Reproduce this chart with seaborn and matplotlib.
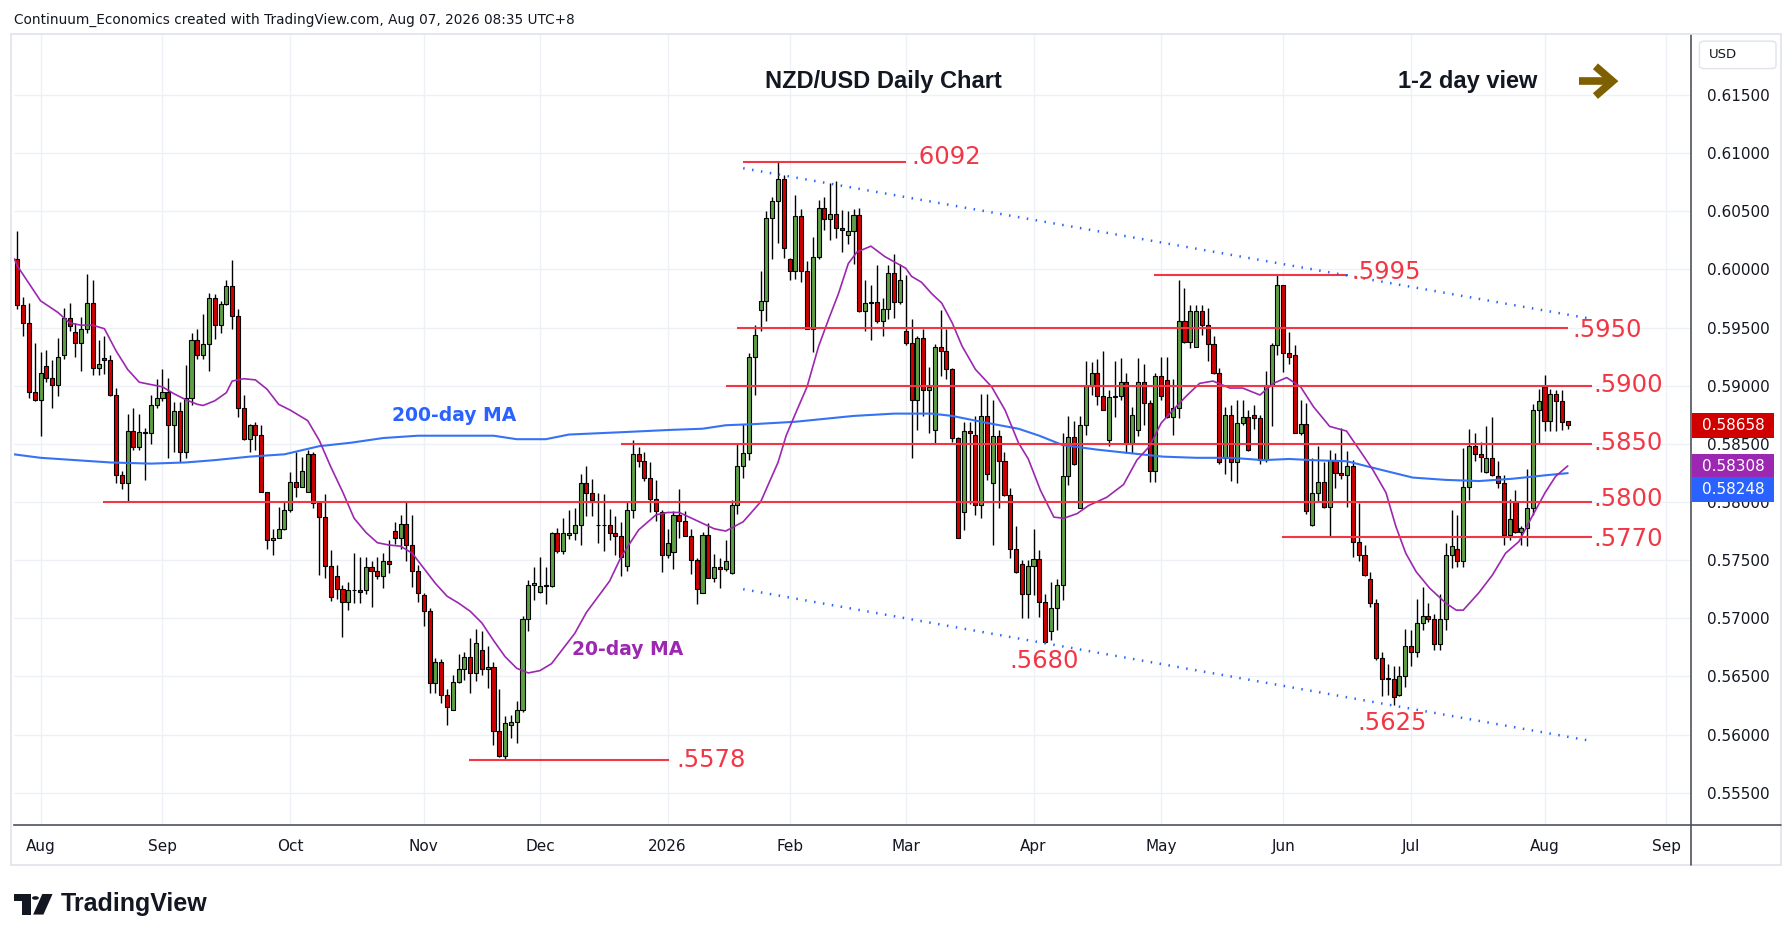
import numpy as np
import pandas as pd
import seaborn as sns
import matplotlib
matplotlib.use("Agg")
import matplotlib.pyplot as plt
from matplotlib.patches import Rectangle, Polygon, Circle, FancyBboxPatch
from matplotlib.lines import Line2D

# NZD/USD daily candles, 28 Jul 2025 -> 7 Aug 2026 (one row per month in each list)
opens = [
    0.6009, 0.5969, 0.5954, 0.5895,
    0.5888, 0.5917, 0.5907, 0.5901, 0.5926, 0.5958, 0.5946, 0.5937, 0.5949, 0.5971, 0.5915, 0.5924, 0.5922, 0.5892, 0.5823, 0.5816, 0.5861, 0.5847, 0.5860, 0.5859, 0.5883,
    0.5889, 0.5895, 0.5866, 0.5878, 0.5843, 0.5889, 0.5939, 0.5926, 0.5936, 0.5975, 0.5952, 0.5970, 0.5986, 0.5960, 0.5881, 0.5854, 0.5866, 0.5858, 0.5809, 0.5767, 0.5769, 0.5777,
    0.5793, 0.5817, 0.5813, 0.5809, 0.5841, 0.5799, 0.5787, 0.5745, 0.5736, 0.5725, 0.5714, 0.5724, 0.5724, 0.5724, 0.5744, 0.5741, 0.5736, 0.5749, 0.5775, 0.5769, 0.5781, 0.5763, 0.5741,
    0.5720, 0.5706, 0.5644, 0.5662, 0.5634, 0.5621, 0.5645, 0.5656, 0.5667, 0.5653, 0.5673, 0.5656, 0.5658, 0.5603, 0.5582, 0.5608, 0.5611, 0.5621, 0.5699, 0.5729,
    0.5723, 0.5728, 0.5728, 0.5773, 0.5758, 0.5772, 0.5773, 0.5780, 0.5816, 0.5808, 0.5780, 0.5780, 0.5780, 0.5773, 0.5771, 0.5745, 0.5793, 0.5841, 0.5835, 0.5821, 0.5803, 0.5791,
    0.5754, 0.5757, 0.5789, 0.5784, 0.5771, 0.5750, 0.5722, 0.5772, 0.5735, 0.5744, 0.5742, 0.5739, 0.5797, 0.5831, 0.5842, 0.5925, 0.5965, 0.5973, 0.6044, 0.6059, 0.6078,
    0.6009, 0.5999, 0.6046, 0.5999, 0.5949, 0.6011, 0.6053, 0.6043, 0.6048, 0.6036, 0.6030, 0.6033, 0.6047, 0.5964, 0.5971, 0.5972, 0.5956, 0.5966, 0.5997, 0.5972,
    0.5947, 0.5937, 0.5888, 0.5941, 0.5896, 0.5862, 0.5933, 0.5930, 0.5914, 0.5855, 0.5791, 0.5861, 0.5858, 0.5797, 0.5874, 0.5816, 0.5857, 0.5835, 0.5806, 0.5760, 0.5747, 0.5721,
    0.5745, 0.5751, 0.5714, 0.5689, 0.5709, 0.5729, 0.5822, 0.5856, 0.5795, 0.5866, 0.5900, 0.5911, 0.5891, 0.5853, 0.5890, 0.5891, 0.5903, 0.5851, 0.5862, 0.5903, 0.5885, 0.5827,
    0.5908, 0.5905, 0.5873, 0.5881, 0.5956, 0.5938, 0.5933, 0.5964, 0.5952, 0.5936, 0.5911, 0.5838, 0.5875, 0.5834, 0.5868, 0.5873, 0.5875, 0.5872, 0.5836, 0.5901, 0.5935,
    0.5987, 0.5928, 0.5926, 0.5859, 0.5867, 0.5780, 0.5808, 0.5817, 0.5796, 0.5836, 0.5825, 0.5823, 0.5831, 0.5766, 0.5754, 0.5734, 0.5713, 0.5666, 0.5648, 0.5648, 0.5634, 0.5650,
    0.5676, 0.5671, 0.5696, 0.5702, 0.5699, 0.5678, 0.5699, 0.5754, 0.5760, 0.5749, 0.5813, 0.5848, 0.5841, 0.5826, 0.5838, 0.5822, 0.5816, 0.5772, 0.5800, 0.5774, 0.5778, 0.5795, 0.5879,
    0.5899, 0.5870, 0.5893, 0.5887, 0.5870,
]
highs = [
    0.6033, 0.5976, 0.5971, 0.5937,
    0.5929, 0.5931, 0.5922, 0.5941, 0.5967, 0.5971, 0.5954, 0.5959, 0.5996, 0.5991, 0.5939, 0.5943, 0.5926, 0.5898, 0.5827, 0.5876, 0.5881, 0.5876, 0.5864, 0.5892, 0.5906,
    0.5914, 0.5907, 0.5886, 0.5886, 0.5918, 0.5945, 0.5949, 0.5962, 0.5980, 0.5979, 0.5973, 0.5991, 0.6008, 0.5966, 0.5892, 0.5867, 0.5869, 0.5866, 0.5809, 0.5777, 0.5796, 0.5800,
    0.5826, 0.5843, 0.5839, 0.5845, 0.5843, 0.5800, 0.5807, 0.5759, 0.5746, 0.5729, 0.5731, 0.5756, 0.5753, 0.5753, 0.5749, 0.5753, 0.5756, 0.5767, 0.5783, 0.5789, 0.5801, 0.5789, 0.5746,
    0.5722, 0.5709, 0.5666, 0.5665, 0.5639, 0.5651, 0.5669, 0.5671, 0.5683, 0.5691, 0.5689, 0.5676, 0.5662, 0.5639, 0.5616, 0.5617, 0.5629, 0.5702, 0.5733, 0.5744,
    0.5753, 0.5744, 0.5774, 0.5778, 0.5786, 0.5793, 0.5795, 0.5824, 0.5831, 0.5820, 0.5808, 0.5807, 0.5794, 0.5788, 0.5783, 0.5800, 0.5853, 0.5847, 0.5843, 0.5834, 0.5819, 0.5793,
    0.5777, 0.5792, 0.5811, 0.5792, 0.5777, 0.5752, 0.5774, 0.5782, 0.5755, 0.5752, 0.5767, 0.5802, 0.5851, 0.5867, 0.5928, 0.5952, 0.5999, 0.6050, 0.6062, 0.6092, 0.6081,
    0.6010, 0.6064, 0.6052, 0.6007, 0.6028, 0.6060, 0.6062, 0.6074, 0.6076, 0.6051, 0.6050, 0.6052, 0.6053, 0.5991, 0.5987, 0.6004, 0.5975, 0.6004, 0.6013, 0.6005,
    0.5995, 0.5957, 0.5943, 0.5949, 0.5916, 0.5936, 0.5965, 0.5949, 0.5915, 0.5856, 0.5869, 0.5869, 0.5874, 0.5893, 0.5893, 0.5888, 0.5862, 0.5843, 0.5812, 0.5779, 0.5750, 0.5750,
    0.5777, 0.5759, 0.5721, 0.5731, 0.5734, 0.5859, 0.5874, 0.5870, 0.5874, 0.5921, 0.5920, 0.5923, 0.5930, 0.5896, 0.5921, 0.5924, 0.5911, 0.5882, 0.5924, 0.5919, 0.5888, 0.5911,
    0.5925, 0.5925, 0.5906, 0.5991, 0.5984, 0.5969, 0.5969, 0.5969, 0.5967, 0.5943, 0.5915, 0.5882, 0.5883, 0.5888, 0.5888, 0.5879, 0.5883, 0.5875, 0.5913, 0.5937, 0.5995,
    0.5987, 0.5946, 0.5935, 0.5888, 0.5885, 0.5838, 0.5848, 0.5834, 0.5845, 0.5842, 0.5864, 0.5844, 0.5836, 0.5799, 0.5763, 0.5740, 0.5717, 0.5671, 0.5661, 0.5659, 0.5659, 0.5691,
    0.5690, 0.5717, 0.5727, 0.5713, 0.5704, 0.5721, 0.5765, 0.5793, 0.5789, 0.5846, 0.5863, 0.5859, 0.5852, 0.5865, 0.5873, 0.5835, 0.5823, 0.5803, 0.5810, 0.5779, 0.5828, 0.5884, 0.5897,
    0.5909, 0.5897, 0.5896, 0.5896, 0.5870,
]
lows = [
    0.5966, 0.5943, 0.5889, 0.5887,
    0.5857, 0.5903, 0.5881, 0.5891, 0.5923, 0.5947, 0.5925, 0.5913, 0.5945, 0.5909, 0.5909, 0.5910, 0.5891, 0.5816, 0.5811, 0.5800, 0.5845, 0.5845, 0.5819, 0.5850, 0.5881,
    0.5887, 0.5838, 0.5843, 0.5834, 0.5838, 0.5883, 0.5923, 0.5923, 0.5913, 0.5940, 0.5945, 0.5969, 0.5949, 0.5873, 0.5853, 0.5843, 0.5845, 0.5809, 0.5760, 0.5754, 0.5769, 0.5776,
    0.5791, 0.5804, 0.5813, 0.5809, 0.5795, 0.5737, 0.5735, 0.5715, 0.5717, 0.5684, 0.5707, 0.5713, 0.5713, 0.5721, 0.5710, 0.5734, 0.5726, 0.5739, 0.5764, 0.5760, 0.5749, 0.5727, 0.5714,
    0.5693, 0.5636, 0.5636, 0.5627, 0.5608, 0.5621, 0.5644, 0.5647, 0.5636, 0.5646, 0.5651, 0.5640, 0.5591, 0.5581, 0.5578, 0.5597, 0.5593, 0.5619, 0.5689, 0.5716,
    0.5722, 0.5712, 0.5727, 0.5756, 0.5755, 0.5768, 0.5767, 0.5763, 0.5788, 0.5788, 0.5765, 0.5758, 0.5767, 0.5754, 0.5736, 0.5741, 0.5786, 0.5830, 0.5818, 0.5791, 0.5784, 0.5740,
    0.5752, 0.5742, 0.5769, 0.5771, 0.5738, 0.5712, 0.5722, 0.5735, 0.5731, 0.5726, 0.5741, 0.5738, 0.5790, 0.5821, 0.5836, 0.5892, 0.5947, 0.5956, 0.6009, 0.6023, 0.6010,
    0.5991, 0.5992, 0.5989, 0.5949, 0.5929, 0.6009, 0.6034, 0.6025, 0.6027, 0.6015, 0.6022, 0.6005, 0.5963, 0.5947, 0.5939, 0.5954, 0.5943, 0.5957, 0.5958, 0.5970,
    0.5935, 0.5838, 0.5862, 0.5874, 0.5859, 0.5850, 0.5908, 0.5906, 0.5852, 0.5769, 0.5776, 0.5798, 0.5789, 0.5786, 0.5819, 0.5763, 0.5795, 0.5805, 0.5752, 0.5739, 0.5700, 0.5700,
    0.5720, 0.5701, 0.5679, 0.5681, 0.5690, 0.5716, 0.5815, 0.5832, 0.5795, 0.5858, 0.5892, 0.5883, 0.5879, 0.5848, 0.5873, 0.5888, 0.5842, 0.5842, 0.5857, 0.5866, 0.5817, 0.5817,
    0.5888, 0.5872, 0.5858, 0.5872, 0.5937, 0.5932, 0.5933, 0.5944, 0.5921, 0.5910, 0.5833, 0.5824, 0.5818, 0.5816, 0.5866, 0.5844, 0.5863, 0.5833, 0.5834, 0.5865, 0.5926,
    0.5912, 0.5919, 0.5859, 0.5858, 0.5790, 0.5779, 0.5800, 0.5795, 0.5770, 0.5812, 0.5820, 0.5796, 0.5753, 0.5749, 0.5736, 0.5710, 0.5664, 0.5633, 0.5634, 0.5625, 0.5633, 0.5641,
    0.5659, 0.5667, 0.5690, 0.5697, 0.5673, 0.5673, 0.5690, 0.5743, 0.5744, 0.5744, 0.5802, 0.5835, 0.5826, 0.5825, 0.5822, 0.5812, 0.5763, 0.5767, 0.5773, 0.5763, 0.5762, 0.5789, 0.5850,
    0.5861, 0.5861, 0.5861, 0.5862, 0.5863,
]
closes = [
    0.5969, 0.5954, 0.5895, 0.5888,
    0.5911, 0.5907, 0.5901, 0.5925, 0.5958, 0.5951, 0.5937, 0.5949, 0.5971, 0.5915, 0.5919, 0.5922, 0.5892, 0.5823, 0.5816, 0.5861, 0.5847, 0.5860, 0.5859, 0.5883, 0.5889,
    0.5895, 0.5866, 0.5878, 0.5843, 0.5889, 0.5939, 0.5926, 0.5936, 0.5975, 0.5952, 0.5970, 0.5986, 0.5960, 0.5881, 0.5854, 0.5866, 0.5858, 0.5809, 0.5767, 0.5769, 0.5777, 0.5793,
    0.5817, 0.5813, 0.5827, 0.5841, 0.5799, 0.5787, 0.5745, 0.5718, 0.5725, 0.5714, 0.5724, 0.5724, 0.5723, 0.5744, 0.5741, 0.5736, 0.5749, 0.5747, 0.5769, 0.5781, 0.5763, 0.5741, 0.5722,
    0.5706, 0.5644, 0.5662, 0.5634, 0.5624, 0.5645, 0.5656, 0.5667, 0.5653, 0.5679, 0.5656, 0.5658, 0.5603, 0.5582, 0.5610, 0.5611, 0.5621, 0.5699, 0.5729, 0.5730,
    0.5728, 0.5728, 0.5773, 0.5758, 0.5773, 0.5773, 0.5780, 0.5816, 0.5808, 0.5802, 0.5780, 0.5780, 0.5773, 0.5771, 0.5753, 0.5793, 0.5841, 0.5835, 0.5821, 0.5803, 0.5792, 0.5754,
    0.5765, 0.5789, 0.5784, 0.5771, 0.5750, 0.5725, 0.5772, 0.5735, 0.5744, 0.5742, 0.5749, 0.5797, 0.5831, 0.5842, 0.5925, 0.5944, 0.5973, 0.6044, 0.6059, 0.6078, 0.6018,
    0.5999, 0.6046, 0.5999, 0.5949, 0.6011, 0.6053, 0.6043, 0.6048, 0.6036, 0.6034, 0.6033, 0.6047, 0.5964, 0.5971, 0.5972, 0.5956, 0.5966, 0.5997, 0.5972, 0.5991,
    0.5937, 0.5888, 0.5941, 0.5896, 0.5899, 0.5933, 0.5930, 0.5914, 0.5855, 0.5769, 0.5861, 0.5859, 0.5797, 0.5874, 0.5824, 0.5857, 0.5835, 0.5806, 0.5760, 0.5740, 0.5721, 0.5745,
    0.5751, 0.5714, 0.5680, 0.5709, 0.5729, 0.5822, 0.5856, 0.5833, 0.5866, 0.5900, 0.5911, 0.5891, 0.5879, 0.5890, 0.5891, 0.5903, 0.5851, 0.5875, 0.5903, 0.5885, 0.5827, 0.5908,
    0.5891, 0.5873, 0.5881, 0.5956, 0.5938, 0.5964, 0.5964, 0.5952, 0.5936, 0.5911, 0.5834, 0.5875, 0.5834, 0.5868, 0.5873, 0.5845, 0.5872, 0.5836, 0.5901, 0.5935, 0.5987,
    0.5928, 0.5925, 0.5859, 0.5867, 0.5792, 0.5808, 0.5817, 0.5796, 0.5836, 0.5825, 0.5823, 0.5831, 0.5766, 0.5754, 0.5737, 0.5713, 0.5666, 0.5648, 0.5648, 0.5632, 0.5650, 0.5676,
    0.5671, 0.5696, 0.5702, 0.5699, 0.5678, 0.5699, 0.5754, 0.5762, 0.5749, 0.5813, 0.5848, 0.5841, 0.5839, 0.5838, 0.5823, 0.5816, 0.5772, 0.5785, 0.5774, 0.5778, 0.5795, 0.5879, 0.5887,
    0.5870, 0.5893, 0.5887, 0.5869, 0.58658,
]

# moving averages (bar number, value)
ma20_bar = [0.5, 1, 5, 8, 10, 12, 14, 16, 18, 20, 22, 24, 26, 28, 30, 32, 33, 35, 37, 38, 40, 42, 44, 46, 48,
            51, 53, 55, 57, 59, 61, 63, 65, 67, 69, 71, 73, 75, 77, 79, 81, 83, 85, 87, 89, 91, 93, 97, 99,
            103, 105, 108, 111, 113, 115, 118, 121, 123, 126, 129, 132, 133.4, 135, 137, 139, 140.7, 142.4,
            144.1, 145.6, 148, 150.4, 152.2, 154, 155, 156.7, 158.5, 160.2, 162, 163.7, 166, 168.8, 171.1,
            173.4, 175.1, 177.2, 179.5, 181.2, 183.5, 185.5, 188.6, 191.5, 193.8, 196, 198, 200, 202.3, 204.6,
            206.9, 209.8, 212, 215, 217.3, 219.6, 222, 224.2, 227, 229.9, 232.1, 234.4, 236.7, 238.4, 240.1,
            241.9, 244.2, 247, 248.8, 250, 252.7, 255, 257.3, 259.6, 261.8, 264.1, 265.9, 268]
ma20_val = [0.6009, 0.6003, 0.5973, 0.5963, 0.5954, 0.5952, 0.5952, 0.5949, 0.5930, 0.5914, 0.5903, 0.5901, 0.5899,
            0.5893, 0.5888, 0.5884, 0.5883, 0.5887, 0.5894, 0.5904, 0.5906, 0.5905, 0.5897, 0.5884, 0.5879,
            0.5870, 0.5853, 0.5830, 0.5809, 0.5786, 0.5774, 0.5765, 0.5763, 0.5762, 0.5756, 0.5743, 0.5730,
            0.5719, 0.5713, 0.5706, 0.5696, 0.5681, 0.5667, 0.5657, 0.5653, 0.5655, 0.5661, 0.5687, 0.5705,
            0.5732, 0.5753, 0.5776, 0.5789, 0.5791, 0.5791, 0.5784, 0.5777, 0.5775, 0.5783, 0.5800, 0.5834,
            0.5857, 0.5876, 0.5899, 0.5934, 0.5957, 0.5979, 0.6005, 0.6015, 0.6020, 0.6011, 0.6006, 0.6001,
            0.5994, 0.5989, 0.5979, 0.5971, 0.5954, 0.5934, 0.5914, 0.5899, 0.5879, 0.5851, 0.5837, 0.5810,
            0.5787, 0.5786, 0.5790, 0.5797, 0.5804, 0.5815, 0.5836, 0.5848, 0.5868, 0.5879, 0.5891, 0.5902,
            0.5904, 0.5898, 0.5898, 0.5892, 0.5902, 0.5907, 0.5899, 0.5882, 0.5865, 0.5861, 0.5845, 0.5828,
            0.5808, 0.5779, 0.5756, 0.5740, 0.5726, 0.5713, 0.5707, 0.5707, 0.5722, 0.5737, 0.5756, 0.5766,
            0.5787, 0.5808, 0.5822, 0.5831]
ma200_bar = [0.4, 5, 11, 17, 24, 30, 35, 41, 47, 53, 58.5, 64, 70, 76, 83, 87, 92, 96, 105, 113.5, 119, 123,
             128, 135, 137, 145, 152, 158.5, 162, 168, 173.4, 177, 181, 187, 192.6, 198.3, 204, 210, 215.6,
             220, 224, 230, 235.6, 241.3, 247, 252.7, 258.5, 264.2, 268]
ma200_val = [0.5841, 0.5838, 0.5836, 0.5834, 0.5833, 0.5834, 0.5836, 0.5839, 0.5841, 0.5848, 0.5851, 0.5855,
             0.5857, 0.5857, 0.5857, 0.5854, 0.5854, 0.5858, 0.5860, 0.5862, 0.5863, 0.5866, 0.5867, 0.5869,
             0.5870, 0.5874, 0.5876, 0.5876, 0.5874, 0.5868, 0.5863, 0.5857, 0.5849, 0.5845, 0.5842, 0.5839,
             0.5838, 0.5838, 0.5836, 0.5837, 0.5836, 0.5835, 0.5828, 0.5821, 0.5819, 0.5818, 0.5820, 0.5823,
             0.58248]

# drawn levels and labels
levels = [0.6092, 0.5995, 0.5950, 0.5900, 0.5850, 0.5800, 0.5770, 0.5578]
level_text = [".6092", ".5995", ".5950", ".5900", ".5850", ".5800", ".5770", ".5578"]
low_text = [".5680", ".5625"]
channel_hi = [0.6087, 0.5958]
channel_lo = [0.5725, 0.5595]
last_price, ma20_last, ma200_last = 0.58658, 0.58308, 0.58248
yticks = [0.555, 0.560, 0.565, 0.570, 0.575, 0.580, 0.585, 0.590, 0.595, 0.600, 0.605, 0.610, 0.615]

sns.set_style("white")
plt.rcParams['font.family'] = ['DejaVu Sans']

GREEN, RED = '#5f9f45', '#d10000'
LVL = '#f23645'
BLUE = '#2962ff'
PURPLE = '#9c27b0'
GRID = '#edf0f5'
INK = '#131722'

n = len(opens)
assert len(highs) == n and len(lows) == n and len(closes) == n

days = pd.bdate_range("2025-07-28", "2026-09-30")
days = days[~days.isin(pd.to_datetime(["2025-12-25", "2026-01-01"]))]
df = pd.DataFrame({"bar": np.arange(1, n + 1), "open": opens, "high": highs,
                   "low": lows, "close": closes})
up = df.close >= df.open

# month ticks at first trading day of each month
cal = pd.Series(np.arange(1, len(days) + 1), index=days)
firsts = cal.groupby([days.year, days.month]).first()
month_pos, month_lab = [], []
for (yr, mo), pos in firsts.items():
    if (yr, mo) == (2025, 7):
        continue
    month_pos.append(pos)
    month_lab.append(str(yr) if mo == 1 else pd.Timestamp(yr, mo, 1).strftime("%b"))

W, H = 1568, 824  # layout grid
def fx(px):
    return px / W
def fy(py):
    return 1 - py / H

fig = plt.figure(figsize=(17.92, 9.42), dpi=100)
ax = fig.add_axes([fx(12), fy(722), fx(1480) - fx(12), fy(31) - fy(722)])
ax.set_xlim(0.38, 289.3)
ax.set_ylim(0.55219, 0.62012)

ax.set_xticks(month_pos)
ax.set_xticklabels(month_lab)
ax.set_yticks(yticks)
ax.set_yticklabels([f"{v:.5f}" for v in yticks])
ax.yaxis.tick_right()
ax.grid(True, color=GRID, lw=1.0, zorder=0)
ax.tick_params(axis='x', length=0, pad=10, labelsize=11, labelcolor=INK)
ax.tick_params(axis='y', length=0, pad=11, labelsize=11, labelcolor=INK)
for s in ['top', 'left']:
    ax.spines[s].set_visible(False)
for s in ['bottom', 'right']:
    ax.spines[s].set_color('#50535e')
    ax.spines[s].set_linewidth(1.2)

# candles
ax.vlines(df.bar, df.low, df.high, color='black', lw=1.0, zorder=3)
body = (df.close - df.open).abs().clip(lower=0.00004)
ax.bar(df.bar, body, bottom=np.minimum(df.open, df.close), width=0.7,
       color=np.where(up, GREEN, RED), edgecolor='black', linewidth=0.8, zorder=3.2)

# moving averages
sns.lineplot(x=ma200_bar, y=ma200_val, ax=ax, color='#3572f5', lw=1.5, zorder=4, estimator=None)
sns.lineplot(x=ma20_bar, y=ma20_val, ax=ax, color=PURPLE, lw=1.2, zorder=4, estimator=None)

# horizontal levels
lvl_start = [125.9, 196.8, 124.9, 123.0, 104.9, 15.7, 218.8, 78.7]
lvl_end = [154.1, 230.2, 268.0, 272.2, 272.2, 272.2, 272.2, 113.2]
ax.hlines(levels, lvl_start, lvl_end, color=LVL, lw=1.5, zorder=5)

# channel
ax.plot([126, 271.5], channel_hi, color=BLUE, lw=1.8, ls=(0, (0.6, 3.0)), zorder=5)
ax.plot([126, 271.5], channel_lo, color=BLUE, lw=1.8, ls=(0, (0.6, 3.0)), zorder=5)

# labels
lab_x = [154.9, 230.8, 268.8, 272.5, 272.5, 272.5, 272.5, 114.5]
lab_y = [0.6097, 0.5998, 0.5948, 0.5901, 0.5851, 0.5803, 0.5768, 0.5578]
for t, x, y in zip(level_text, lab_x, lab_y):
    ax.text(x, y, t, color=LVL, fontsize=17.5, ha='left', va='center', zorder=6)
ax.text(171.8, 0.5663, low_text[0], color=LVL, fontsize=17.5, ha='left', va='center', zorder=6)
ax.text(231.8, 0.5610, low_text[1], color=LVL, fontsize=17.5, ha='left', va='center', zorder=6)
ax.text(76.2, 0.5874, "200-day MA", color=BLUE, fontsize=13.5, fontweight='bold',
        ha='center', va='center', zorder=6)
ax.text(106.1, 0.5673, "20-day MA", color=PURPLE, fontsize=13.5, fontweight='bold',
        ha='center', va='center', zorder=6)

# price tags on the scale
tr = ax.get_yaxis_transform()
tag_h = 0.00215
for price, ypos, col in [(last_price, last_price, '#d10000'),
                         (ma20_last, ma20_last, PURPLE),
                         (ma200_last, 0.5811, BLUE)]:
    ax.add_patch(Rectangle((1.0006, ypos - tag_h / 2), 0.0484, tag_h, transform=tr,
                           clip_on=False, facecolor=col, edgecolor='none', zorder=7))
    ax.text(1.0006 + 0.0242, ypos, f"{price:.5f}", transform=tr, color='white',
            fontsize=11, ha='center', va='center', zorder=8, clip_on=False)

# titles
fig.text(fx(773), fy(71), "NZD/USD Daily Chart", fontsize=17, fontweight='bold',
         family=['Liberation Sans', 'DejaVu Sans'], ha='center', va='center', color=INK)
fig.text(fx(1284), fy(71), "1-2 day view", fontsize=17, fontweight='bold',
         family=['Liberation Sans', 'DejaVu Sans'], ha='center', va='center', color=INK)

# arrow drawn as strokes
BROWN = '#7f6000'
fig.add_artist(Line2D([fx(1382), fx(1410)], [fy(71), fy(71)], transform=fig.transFigure,
                      color=BROWN, lw=5.5, solid_capstyle='butt'))
fig.add_artist(Line2D([fx(1396), fx(1411), fx(1396)], [fy(58), fy(71), fy(84)],
                      transform=fig.transFigure, color=BROWN, lw=5.5,
                      solid_capstyle='butt', solid_joinstyle='miter'))

fig.text(fx(12), fy(17), "Continuum_Economics created with TradingView.com, Aug 07, 2026 08:35 UTC+8",
         fontsize=9.8, ha='left', va='center', color=INK)

# frame pieces
fig.add_artist(Rectangle((fx(10), fy(757)), fx(1558) - fx(10), fy(30) - fy(757),
                         transform=fig.transFigure, fill=False, ec='#e0e3eb', lw=1.2))
fig.add_artist(Line2D([fx(1480), fx(1480)], [fy(722), fy(757)], transform=fig.transFigure,
                      color='#50535e', lw=1.2))
fig.add_artist(Line2D([fx(1480), fx(1558)], [fy(722), fy(722)], transform=fig.transFigure,
                      color='#50535e', lw=1.2))
fig.add_artist(FancyBboxPatch((fx(1487), fy(60)), fx(1554) - fx(1487), fy(36) - fy(60),
                              boxstyle='round,pad=0,rounding_size=0.003', transform=fig.transFigure,
                              fc='white', ec='#e0e3eb', lw=1))
fig.text(fx(1495), fy(48), "USD", fontsize=9.5, ha='left', va='center', color=INK)

# TradingView logo
logo_t = [(12, 782), (27, 782), (27, 800), (19.5, 800), (19.5, 788.5), (12, 788.5)]
fig.add_artist(Polygon([(fx(a), fy(b)) for a, b in logo_t], closed=True, transform=fig.transFigure,
                       fc=INK, ec='none'))
fig.add_artist(Circle((fx(31), fy(785.5)), fx(3.0), transform=fig.transFigure, fc=INK, ec='none'))
logo_s = [(37, 782), (46, 782), (38, 800), (29, 800)]
fig.add_artist(Polygon([(fx(a), fy(b)) for a, b in logo_s], closed=True, transform=fig.transFigure,
                       fc=INK, ec='none'))
fig.text(fx(53), fy(791), "TradingView", fontsize=18, fontweight='bold',
         family=['Liberation Sans', 'DejaVu Sans'], ha='left', va='center', color=INK)

fig.savefig("out.png", dpi=100, facecolor='white')
